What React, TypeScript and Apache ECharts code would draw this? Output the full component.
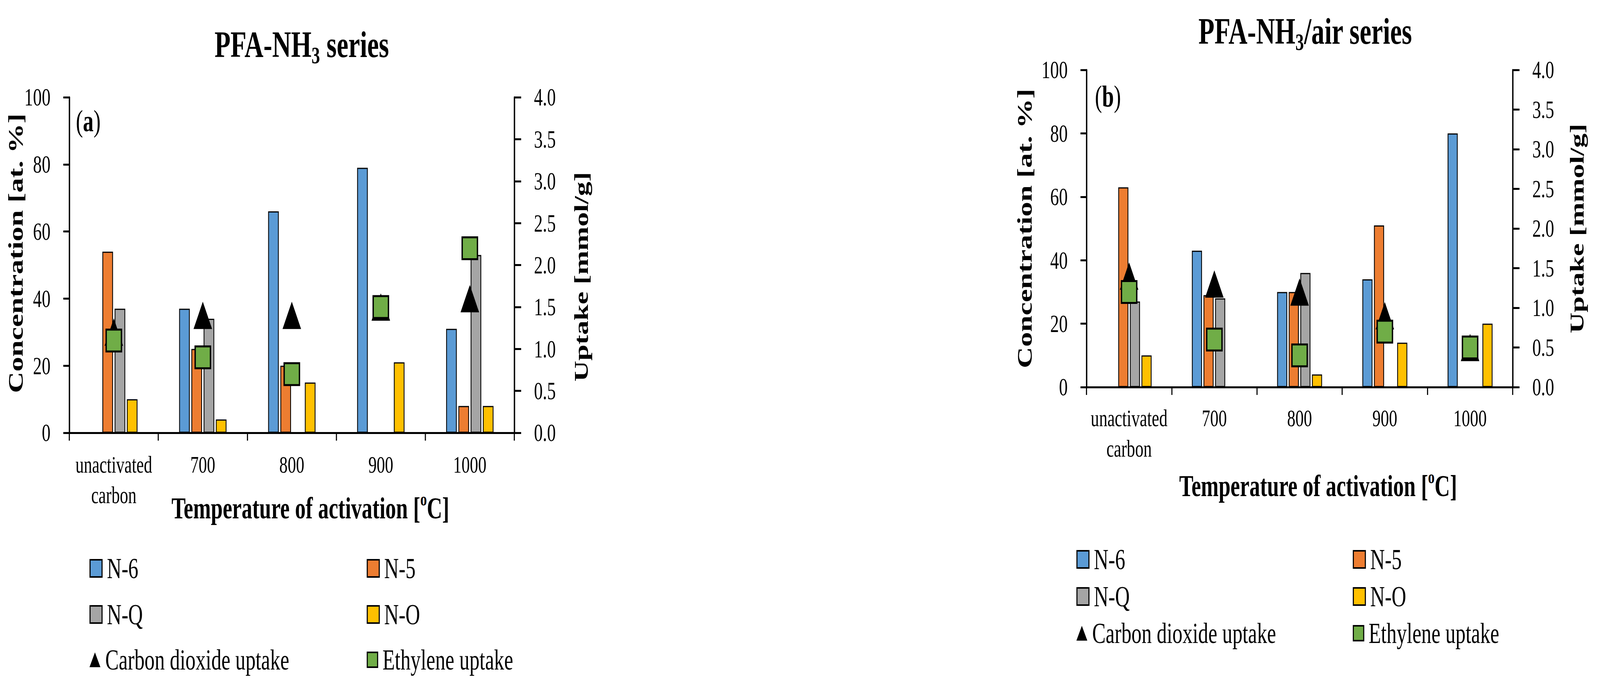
import { useEffect, useRef, useState } from "react";
import * as echarts from "echarts";

const categories = ["unactivated\ncarbon", "700", "800", "900", "1000"];
const barNames = ["N-6", "N-5", "N-Q", "N-O"];
const barColors = ["#5B9BD5", "#ED7D31", "#A5A5A5", "#FFC000"];
const co2Name = "Carbon dioxide uptake";
const ethName = "Ethylene uptake";

// (a) PFA-NH3 series, concentration [at. %]
const nh3N6 = [null, 37, 66, 79, 31];
const nh3N5 = [54, 25, 20, null, 8];
const nh3NQ = [37, 34, null, null, 53];
const nh3NO = [10, 4, 15, 21, 8];
// uptake [mmol/g]
const nh3Co2 = [1.2, 1.4, 1.4, 1.5, 1.6];
const nh3Eth = [1.1, 0.9, 0.7, 1.5, 2.2];

// (b) PFA-NH3/air series
const airN6 = [null, 43, 30, 34, 80];
const airN5 = [63, 29, 30, 51, null];
const airNQ = [27, 28, 36, null, null];
const airNO = [10, null, 4, 14, 20];
const airCo2 = [1.4, 1.3, 1.2, 0.9, 0.5];
const airEth = [1.2, 0.6, 0.4, 0.7, 0.5];

const concTicks = { min: 0, max: 100, interval: 20 };
const uptakeTicks = { min: 0, max: 4, interval: 0.5 };

const FONT = "'Liberation Serif', 'Times New Roman', serif";
const BLACK = "#000";
const PAGE_W = 5864;
const PAGE_H = 1751;
const HALF = 2932; // each panel gets its own half of the page

// positions below are page pixels; each chart subtracts its offset
const panels = [
  {
    offset: 0,
    grid: { left: 254, top: 249, width: 1631, height: 859 },
    title: "PFA-NH{sub|3} series",
    titleX: 1106,
    titleTop: 66,
    tag: "({b|a})",
    tagX: 278,
    tagTop: 271,
    bars: [nh3N6, nh3N5, nh3NQ, nh3NO],
    co2: nh3Co2,
    eth: nh3Eth,
    barWidth: 39,
    labelMargin: 42,
    xNameGap: 154,
    leftNameGap: 158,
    leftNamePad: [0, 0, 0, 60],
    rightNameGap: 205,
    rightNamePad: [0, 60, 0, 0],
    legendCols: [328, 1344],
    legendRows: [1455, 1573, 1689],
  },
  {
    offset: HALF,
    grid: { left: 3982, top: 179, width: 1562, height: 812 },
    title: "PFA-NH{sub|3}/air series",
    titleX: 4784,
    titleTop: 32,
    tag: "({b|b})",
    tagX: 4013,
    tagTop: 208,
    bars: [airN6, airN5, airNQ, airNO],
    co2: airCo2,
    eth: airEth,
    barWidth: 37,
    labelMargin: 40,
    xNameGap: 214,
    leftNameGap: 187,
    leftNamePad: [0, 0, 0, 0],
    rightNameGap: 196,
    rightNamePad: [0, 0, 0, 0],
    legendCols: [3945, 4958],
    legendRows: [1432, 1527, 1621],
  },
];

const axisLine = { show: true, lineStyle: { color: BLACK, width: 5 } };

const legendItem = (
  name: string,
  left: number,
  centerY: number,
  icon: string,
  w: number,
  h: number,
  itemStyle: any
) => ({
  left,
  top: centerY - 37,
  padding: 0,
  itemWidth: w,
  itemHeight: h,
  selectedMode: false,
  data: [{ name, icon, itemStyle }],
  textStyle: {
    fontFamily: FONT,
    fontSize: 74,
    color: BLACK,
    padding: [0, 0, 0, 13],
  },
});

const nameStyle = (size: number, pad: number[]) => ({
  fontFamily: FONT,
  fontSize: size,
  fontWeight: "bold",
  lineHeight: 78,
  color: BLACK,
  padding: pad,
});

const buildOption = (p: (typeof panels)[number]) => {
  const o = p.offset;
  const series: any[] = [];

  p.bars.forEach((values, k) => {
    series.push({
      name: barNames[k],
      type: "bar",
      xAxisIndex: 0,
      yAxisIndex: 0,
      data: values,
      barWidth: p.barWidth,
      barGap: "15%",
      itemStyle: { color: barColors[k], borderColor: BLACK, borderWidth: 3 },
    });
  });
  series.push({
    name: co2Name,
    type: "scatter",
    xAxisIndex: 0,
    yAxisIndex: 1,
    data: p.co2,
    symbol: "triangle",
    symbolSize: [68, 70],
    itemStyle: { color: BLACK, opacity: 1 },
    z: 3,
  });
  series.push({
    name: ethName,
    type: "scatter",
    xAxisIndex: 0,
    yAxisIndex: 1,
    data: p.eth,
    symbol: "rect",
    symbolSize: 56,
    itemStyle: { color: "#70AD47", borderColor: BLACK, borderWidth: 5, opacity: 1 },
    z: 4,
  });

  const [c1, c2] = p.legendCols.map((c) => c - o);
  const [r1, r2, r3] = p.legendRows;
  const boxed = { borderColor: BLACK, borderWidth: 4 };

  return {
    animation: false,
    backgroundColor: "#fff",
    title: [
      {
        text: p.title,
        left: p.titleX - o,
        top: p.titleTop,
        padding: 0,
        textAlign: "center",
        textStyle: {
          fontFamily: FONT,
          fontSize: 96,
          fontWeight: "bold",
          lineHeight: 96,
          color: BLACK,
          rich: {
            sub: {
              fontFamily: FONT,
              fontSize: 62,
              fontWeight: "bold",
              lineHeight: 62,
              color: BLACK,
              padding: [54, 0, 0, 0],
            },
          },
        },
      },
      {
        text: p.tag,
        left: p.tagX - o,
        top: p.tagTop,
        padding: 0,
        textStyle: {
          fontFamily: FONT,
          fontSize: 78,
          fontWeight: "normal",
          lineHeight: 78,
          color: BLACK,
          rich: {
            b: { fontFamily: FONT, fontSize: 78, fontWeight: "bold", color: BLACK },
          },
        },
      },
    ],
    legend: [
      legendItem("N-6", c1, r1, "rect", 44, 44, boxed),
      legendItem("N-5", c2, r1, "rect", 44, 44, boxed),
      legendItem("N-Q", c1, r2, "rect", 44, 44, boxed),
      legendItem("N-O", c2, r2, "rect", 44, 44, boxed),
      legendItem(co2Name, c1, r3, "triangle", 40, 38, { borderWidth: 0 }),
      legendItem(ethName, c2, r3, "rect", 38, 38, boxed),
    ],
    grid: { ...p.grid, left: p.grid.left - o, containLabel: false },
    xAxis: [
      {
        type: "category",
        position: "bottom",
        data: categories,
        axisLine,
        axisTick: { show: true, length: 20, lineStyle: { color: BLACK, width: 4 } },
        axisLabel: {
          interval: 0,
          margin: p.labelMargin,
          fontFamily: FONT,
          fontSize: 61,
          lineHeight: 78,
          color: BLACK,
        },
        name: "Temperature of activation [{sup|o}C]",
        nameLocation: "middle",
        nameGap: p.xNameGap,
        nameMoveOverlap: false,
        nameTextStyle: {
          fontFamily: FONT,
          fontSize: 78,
          fontWeight: "bold",
          lineHeight: 78,
          color: BLACK,
          padding: [0, 0, 0, 136],
          rich: {
            sup: {
              fontFamily: FONT,
              fontSize: 48,
              lineHeight: 48,
              color: BLACK,
              padding: [0, 0, 46, 0],
            },
          },
        },
        splitLine: { show: false },
      },
      // top frame line
      {
        type: "category",
        position: "top",
        data: categories,
        axisLine,
        axisTick: { show: false },
        axisLabel: { show: false },
        splitLine: { show: false },
      },
    ],
    yAxis: [
      {
        type: "value",
        position: "left",
        ...concTicks,
        axisLine,
        axisTick: { show: true, length: 22, lineStyle: { color: BLACK, width: 5 } },
        axisLabel: { margin: 69, fontFamily: FONT, fontSize: 64, color: BLACK },
        splitLine: { show: false },
        name: "Concentration [at. %]",
        nameLocation: "middle",
        nameRotate: 90,
        nameGap: p.leftNameGap,
        nameMoveOverlap: false,
        nameTextStyle: nameStyle(76, p.leftNamePad),
      },
      {
        type: "value",
        position: "right",
        ...uptakeTicks,
        axisLine,
        axisTick: { show: true, length: 25, lineStyle: { color: BLACK, width: 5 } },
        axisLabel: {
          margin: 72,
          fontFamily: FONT,
          fontSize: 64,
          color: BLACK,
          formatter: (v: number) => v.toFixed(1),
        },
        splitLine: { show: false },
        name: "Uptake [mmol/g]",
        nameLocation: "middle",
        nameRotate: 90,
        nameGap: p.rightNameGap,
        nameMoveOverlap: false,
        nameTextStyle: nameStyle(74, p.rightNamePad),
      },
    ],
    series,
  };
};

const App = () => {
  const leftRef = useRef<HTMLDivElement>(null);
  const rightRef = useRef<HTMLDivElement>(null);
  // the window we get can be narrower than the page; fit the layout into it
  const [view] = useState(() => ({
    w: document.documentElement.clientWidth || window.innerWidth,
    h: document.documentElement.clientHeight || window.innerHeight,
  }));
  const sx = Math.min(1, view.w / PAGE_W);
  const sy = Math.min(1, view.h / PAGE_H);

  useEffect(() => {
    const charts: echarts.ECharts[] = [];
    [leftRef.current, rightRef.current].forEach((el, i) => {
      if (!el) return;
      const chart = echarts.init(el, null, { renderer: "svg" });
      chart.setOption(buildOption(panels[i]) as any);
      charts.push(chart);
    });

    return () => {
      charts.forEach((c) => c.dispose());
    };
  }, []);

  return (
    <div
      style={{
        position: "absolute",
        left: 0,
        top: 0,
        width: PAGE_W,
        height: PAGE_H,
        transform: `scale(${sx}, ${sy})`,
        transformOrigin: "0 0",
      }}
    >
      <div
        ref={leftRef}
        style={{ position: "absolute", left: 0, top: 0, width: HALF, height: PAGE_H }}
      />
      <div
        ref={rightRef}
        style={{ position: "absolute", left: HALF, top: 0, width: PAGE_W - HALF, height: PAGE_H }}
      />
    </div>
  );
};

export default App;
